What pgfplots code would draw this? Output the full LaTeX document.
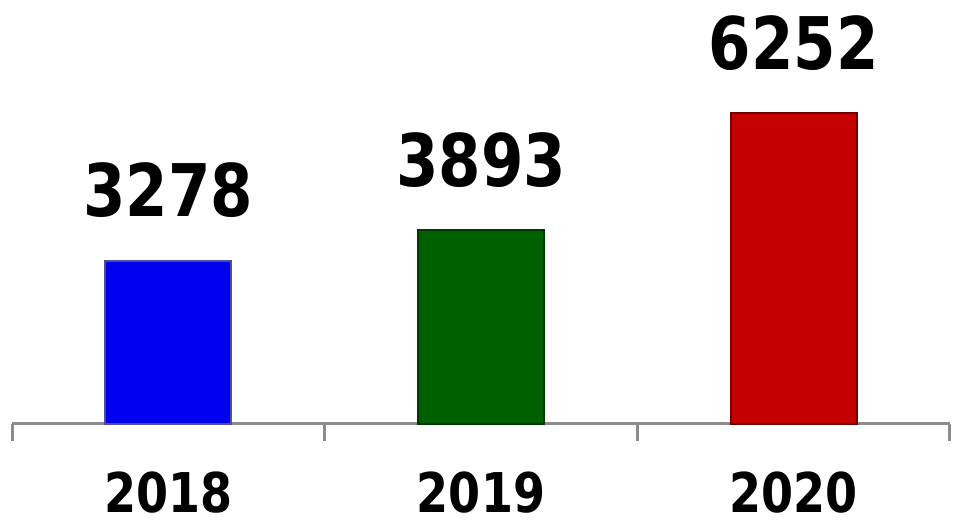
\documentclass[border=0pt]{standalone}
\usepackage{pgfplots}
\pgfplotsset{compat=1.18}
\usepackage{fontspec}
\setmainfont{DejaVu Sans}
\newfontfamily\barfont[FakeStretch=0.84]{DejaVu Sans}
\definecolor{axgrey}{RGB}{140,140,140}
\definecolor{cblue}{RGB}{0,0,240}
\definecolor{cblueb}{RGB}{80,80,150}
\definecolor{cgreen}{RGB}{0,96,0}
\definecolor{cgreenb}{RGB}{0,55,0}
\definecolor{cred}{RGB}{196,0,0}
\definecolor{credb}{RGB}{110,0,0}
\begin{document}
\begin{tikzpicture}
\useasboundingbox (-6pt,-49pt) rectangle (471.5pt,212pt);
\begin{axis}[
  scale only axis,
  width=469pt, height=174.1pt,
  xmin=-0.5, xmax=2.5, ymin=0, ymax=7000,
  ybar, bar width=63pt,
  axis y line=none,
  axis x line*=bottom,
  x axis line style={axgrey, line width=1.5pt},
  xtick={0,1,2},
  xticklabels={2018,2019,2020},
  major tick length=0pt,
  minor xtick={-0.5,0.5,1.5,2.5},
  minor tick length=8.5pt,
  tick align=outside,
  minor tick style={axgrey, line width=1.5pt},
  /pgf/number format/assume math mode=true,
  /pgf/number format/1000 sep={},
  xticklabel style={font=\barfont\bfseries\fontsize{27.4}{30}\selectfont, text=black, yshift=-23.5pt, inner sep=0pt, text depth=0pt},
  nodes near coords,
  nodes near coords style={font=\barfont\bfseries\fontsize{36.3}{40}\selectfont, anchor=base, yshift=22pt, text=black},
  clip=false,
]
\addplot[bar shift=0pt, fill=cblue, draw=cblueb, line width=1pt] coordinates {(0,3278)};
\addplot[bar shift=0pt, fill=cgreen, draw=cgreenb, line width=1pt] coordinates {(1,3893)};
\addplot[bar shift=0pt, fill=cred, draw=credb, line width=1pt] coordinates {(2,6252)};
\end{axis}
\end{tikzpicture}
\end{document}
